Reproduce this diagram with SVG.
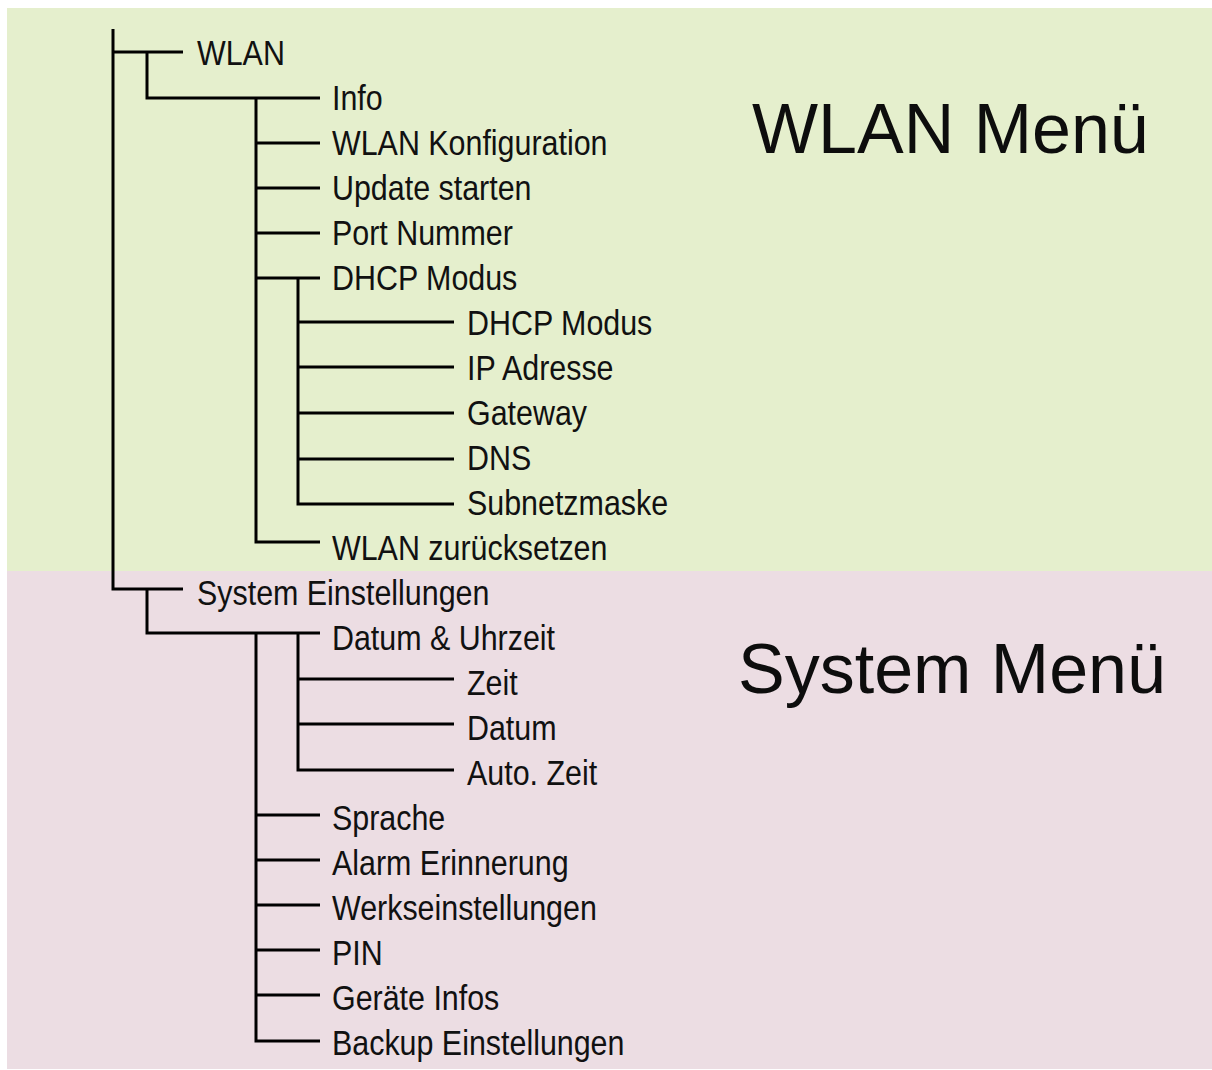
<svg xmlns="http://www.w3.org/2000/svg" width="1212" height="1070" viewBox="0 0 1212 1070">
<style>
.t{font-family:"Liberation Sans",Arial,sans-serif;font-size:36px;fill:#111}
.h{font-family:"Liberation Sans",Arial,sans-serif;font-size:70px;fill:#0d0d0d}
.c{fill:none;stroke:#000;stroke-width:3;stroke-linejoin:miter;stroke-linecap:butt}
</style>
<rect x="0" y="0" width="1212" height="1070" fill="#ffffff"/>
<rect id="wlan-bg" x="7" y="8" width="1205" height="563" fill="#e5efcd"/>
<rect id="system-bg" x="7" y="571" width="1205" height="498" fill="#ecdde3"/>
<g id="connectors" class="c">
<path d="M113,29 V589 H183"/>
<path d="M113,52 H183"/>
<path d="M147,52 V98 H320"/>
<path d="M256,98 V542 H320"/>
<path d="M256,143 H320 M256,188 H320 M256,233 H320 M256,278 H320"/>
<path d="M298,278 V504 H454"/>
<path d="M298,322 H454 M298,367 H454 M298,413 H454 M298,459 H454"/>
<path d="M147,589 V633 H320"/>
<path d="M256,633 V1041 H320"/>
<path d="M256,815 H320 M256,860 H320 M256,905 H320 M256,950 H320 M256,995 H320"/>
<path d="M298,633 V770 H454"/>
<path d="M298,679 H454 M298,724 H454"/>
</g>
<g id="title-wlan"><text class="h" x="752" y="153">WLAN Menü</text></g>
<g id="title-system"><text class="h" x="738" y="693">System Menü</text></g>
<g id="n-wlan"><text class="t" transform="translate(197,65) scale(0.845,1)">WLAN</text></g>
<g id="n-info"><text class="t" transform="translate(332,110) scale(0.845,1)">Info</text></g>
<g id="n-wlankonf"><text class="t" transform="translate(332,155) scale(0.845,1)">WLAN Konfiguration</text></g>
<g id="n-update"><text class="t" transform="translate(332,200) scale(0.845,1)">Update starten</text></g>
<g id="n-port"><text class="t" transform="translate(332,245) scale(0.845,1)">Port Nummer</text></g>
<g id="n-dhcp"><text class="t" transform="translate(332,290) scale(0.845,1)">DHCP Modus</text></g>
<g id="n-dhcp2"><text class="t" transform="translate(467,335) scale(0.845,1)">DHCP Modus</text></g>
<g id="n-ip"><text class="t" transform="translate(467,380) scale(0.845,1)">IP Adresse</text></g>
<g id="n-gateway"><text class="t" transform="translate(467,425) scale(0.845,1)">Gateway</text></g>
<g id="n-dns"><text class="t" transform="translate(467,470) scale(0.845,1)">DNS</text></g>
<g id="n-subnetz"><text class="t" transform="translate(467,515) scale(0.845,1)">Subnetzmaske</text></g>
<g id="n-reset"><text class="t" transform="translate(332,560) scale(0.845,1)">WLAN zurücksetzen</text></g>
<g id="n-system"><text class="t" transform="translate(197,605) scale(0.845,1)">System Einstellungen</text></g>
<g id="n-datum-uhrzeit"><text class="t" transform="translate(332,650) scale(0.845,1)">Datum &amp; Uhrzeit</text></g>
<g id="n-zeit"><text class="t" transform="translate(467,695) scale(0.845,1)">Zeit</text></g>
<g id="n-datum"><text class="t" transform="translate(467,740) scale(0.845,1)">Datum</text></g>
<g id="n-autozeit"><text class="t" transform="translate(467,785) scale(0.845,1)">Auto. Zeit</text></g>
<g id="n-sprache"><text class="t" transform="translate(332,830) scale(0.845,1)">Sprache</text></g>
<g id="n-alarm"><text class="t" transform="translate(332,875) scale(0.845,1)">Alarm Erinnerung</text></g>
<g id="n-werks"><text class="t" transform="translate(332,920) scale(0.845,1)">Werkseinstellungen</text></g>
<g id="n-pin"><text class="t" transform="translate(332,965) scale(0.845,1)">PIN</text></g>
<g id="n-geraete"><text class="t" transform="translate(332,1010) scale(0.845,1)">Geräte Infos</text></g>
<g id="n-backup"><text class="t" transform="translate(332,1055) scale(0.845,1)">Backup Einstellungen</text></g>
</svg>
